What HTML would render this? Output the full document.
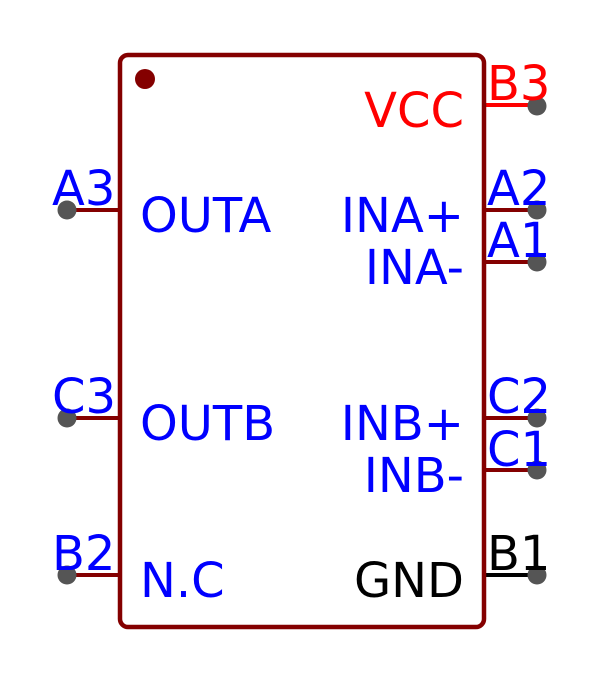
<!DOCTYPE html>
<html><head><style>html,body{margin:0;padding:0;background:#fff}</style></head>
<body>
<svg width="604" height="680" viewBox="0 0 604 680" xmlns="http://www.w3.org/2000/svg" font-family="DejaVu Sans, Liberation Sans, sans-serif" font-size="48">
<rect x="0" y="0" width="604" height="680" fill="#fff"/>
<g stroke="#840000" stroke-width="4">
<line x1="67" y1="210" x2="120" y2="210"/>
<line x1="67" y1="418" x2="120" y2="418"/>
<line x1="67" y1="575" x2="120" y2="575"/>
<line x1="484" y1="210" x2="537" y2="210"/>
<line x1="484" y1="262" x2="537" y2="262"/>
<line x1="484" y1="418" x2="537" y2="418"/>
<line x1="484" y1="470" x2="537" y2="470"/>
</g>
<line x1="484" y1="105" x2="537" y2="105" stroke="#ff0000" stroke-width="4"/>
<line x1="484" y1="575" x2="537" y2="575" stroke="#000" stroke-width="4"/>
<rect x="120" y="55" width="364" height="572" rx="8" fill="none" stroke="#840000" stroke-width="4.5"/>
<circle cx="145" cy="79" r="10" fill="#840000"/>
<g fill="#555">
<circle cx="67" cy="210" r="9.5"/><circle cx="67" cy="418" r="9.5"/><circle cx="67" cy="575" r="9.5"/>
<circle cx="537" cy="106" r="9.5"/><circle cx="537" cy="210" r="9.5"/><circle cx="537" cy="262" r="9.5"/>
<circle cx="537" cy="418" r="9.5"/><circle cx="537" cy="470" r="9.5"/><circle cx="537" cy="575" r="9.5"/>
</g>
<g fill="#0000ff">
<text x="52" y="205">A3</text>
<text x="52" y="413">C3</text>
<text x="52" y="570">B2</text>
<text x="487" y="205">A2</text>
<text x="487" y="257">A1</text>
<text x="487" y="413">C2</text>
<text x="487" y="466">C1</text>
<text x="140" y="232">OUTA</text>
<text x="140" y="440">OUTB</text>
<text x="140" y="597">N.C</text>
<g text-anchor="end">
<text x="464" y="232">INA+</text>
<text x="464" y="284">INA-</text>
<text x="464" y="440">INB+</text>
<text x="464" y="492">INB-</text>
</g>
</g>
<text x="487" y="100" fill="#ff0000">B3</text>
<text x="464" y="127" fill="#ff0000" text-anchor="end">VCC</text>
<text x="487" y="570" fill="#000">B1</text>
<text x="464" y="597" fill="#000" text-anchor="end">GND</text>
</svg>
</body></html>
